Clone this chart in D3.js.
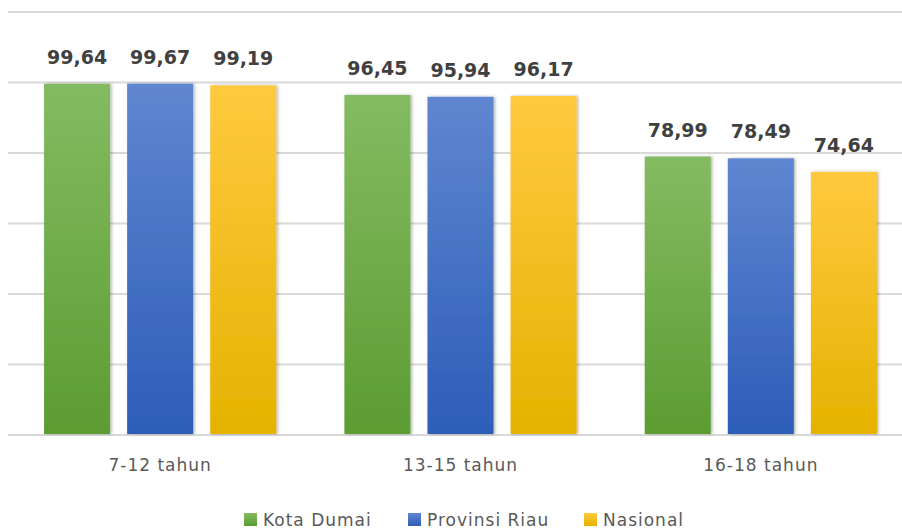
<!DOCTYPE html>
<html lang="id">
<head>
<meta charset="UTF-8">
<title>Angka Partisipasi Sekolah</title>
<script src="https://d3js.org/d3.v7.min.js"></script>
<style>
  body { margin: 0; background: #fff; }
  svg { display: block; font-family: "DejaVu Sans", sans-serif; }
</style>
</head>
<body>
<svg width="902" height="529"></svg>
<script>
const categories = ["7-12 tahun", "13-15 tahun", "16-18 tahun"];
const series = ["Kota Dumai", "Provinsi Riau", "Nasional"];
const kotaDumai = [99.64, 96.45, 78.99];
const provinsiRiau = [99.67, 95.94, 78.49];
const nasional = [99.19, 96.17, 74.64];
const yTicks = [0, 20, 40, 60, 80, 100, 120];

const values = [kotaDumai, provinsiRiau, nasional];
const colors = [
  { top: "#84bb62", bottom: "#5c9c32" },
  { top: "#5f86d0", bottom: "#2d5db8" },
  { top: "#ffc93f", bottom: "#e5b200" }
];

const svg = d3.select("svg");

const x0 = d3.scaleBand().domain(categories).range([10, 911]);
const x1 = d3.scaleBand().domain(series).range([0, x0.bandwidth()])
  .paddingInner(0.205).paddingOuter(0.41);
const y = d3.scaleLinear().domain([0, 120]).range([435, 12]);

// gradients and shadow
const defs = svg.append("defs");
colors.forEach(function (c, i) {
  const g = defs.append("linearGradient").attr("id", "grad" + i)
    .attr("x1", 0).attr("y1", 0).attr("x2", 0).attr("y2", 1);
  g.append("stop").attr("offset", "0%").attr("stop-color", c.top);
  g.append("stop").attr("offset", "100%").attr("stop-color", c.bottom);
});
const f = defs.append("filter").attr("id", "shadow")
  .attr("x", "-10%").attr("y", "-10%").attr("width", "130%").attr("height", "120%");
f.append("feDropShadow").attr("dx", 1.5).attr("dy", 0).attr("stdDeviation", 1.5)
  .attr("flood-color", "#000").attr("flood-opacity", 0.3);

// gridlines
svg.append("g")
  .selectAll("line")
  .data(yTicks)
  .join("line")
  .attr("x1", 8).attr("x2", 902)
  .attr("y1", d => y(d)).attr("y2", d => y(d))
  .attr("stroke", "#d9d9d9")
  .attr("stroke-width", 2);

// bars
const groups = svg.append("g")
  .selectAll("g")
  .data(categories)
  .join("g")
  .attr("transform", d => "translate(" + x0(d) + ",0)");

groups.selectAll("rect")
  .data((d, ci) => series.map((s, si) => ({ s: s, si: si, v: values[si][ci] })))
  .join("rect")
  .attr("x", d => x1(d.s))
  .attr("width", x1.bandwidth())
  .attr("y", d => y(d.v))
  .attr("height", d => y(0) - y(d.v) - 1)
  .attr("fill", d => "url(#grad" + d.si + ")")
  .attr("filter", "url(#shadow)");

groups.selectAll("text")
  .data((d, ci) => series.map((s, si) => ({ s: s, si: si, v: values[si][ci] })))
  .join("text")
  .attr("x", d => x1(d.s) + x1.bandwidth() / 2)
  .attr("y", d => y(d.v) - 20)
  .attr("text-anchor", "middle")
  .attr("font-size", "19px")
  .attr("font-weight", "bold")
  .attr("fill", "#404040")
  .text(d => d.v.toFixed(2).replace(".", ","));

// category axis
const xAxis = svg.append("g")
  .attr("transform", "translate(0," + y(0) + ")")
  .call(d3.axisBottom(x0).tickSize(0).tickPadding(24));
xAxis.select(".domain").remove();
xAxis.selectAll("text")
  .attr("font-size", "17px")
  .attr("letter-spacing", "1px")
  .attr("font-family", "DejaVu Sans, sans-serif")
  .attr("fill", "#595959");

// legend
const legendX = [244, 408, 584];
const legend = svg.append("g")
  .selectAll("g")
  .data(series)
  .join("g")
  .attr("transform", (d, i) => "translate(" + legendX[i] + ",513)");
legend.append("rect")
  .attr("width", 13).attr("height", 13)
  .attr("fill", (d, i) => "url(#grad" + i + ")");
legend.append("text")
  .attr("x", 19).attr("y", 13)
  .attr("font-size", "17px")
  .attr("letter-spacing", "1px")
  .attr("fill", "#595959")
  .text(d => d);
</script>
</body>
</html>
